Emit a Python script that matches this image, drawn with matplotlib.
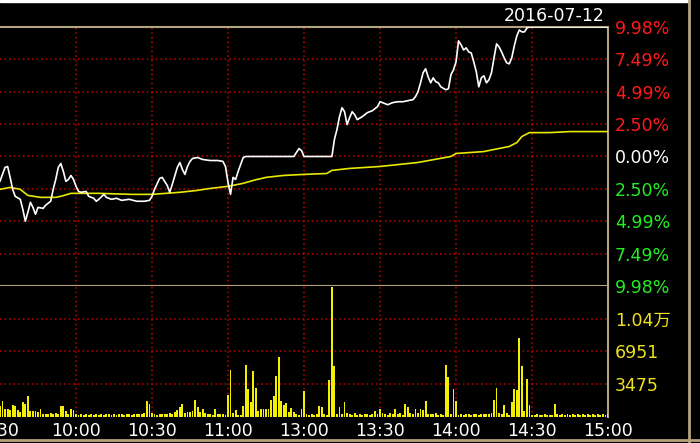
import matplotlib
matplotlib.use("Agg")
import matplotlib.pyplot as plt
from matplotlib.lines import Line2D
from matplotlib.patches import Rectangle

plt.rcParams['font.family'] = ['DejaVu Sans', 'Noto Sans CJK SC']

# trading minutes from 9:30 (0..240, lunch break removed)
price_min = [0, 1, 2, 3, 4, 5, 6, 8, 9, 10, 11, 12, 13, 14, 15, 17, 18, 20, 21, 22,
             23, 24, 25, 26, 27, 28, 29, 30, 31, 32, 34, 35, 37, 38, 39, 41, 42, 44, 46, 48,
             51, 54, 57, 59, 60, 61, 63, 64, 66, 67, 68, 70, 71, 72, 73, 74, 75, 76, 78, 80,
             83, 86, 88, 89, 90, 91, 92, 93, 94, 95, 96, 97, 116, 117, 118, 119, 120, 131, 132, 133,
             134, 135, 136, 137, 138, 139, 140, 141, 143, 144, 145, 147, 149, 150, 151, 153, 155, 157, 159, 161,
             163, 164, 165, 166, 167, 168, 169, 170, 171, 172, 173, 174, 176, 177, 178, 179, 180, 181, 182, 183,
             184, 185, 186, 187, 188, 189, 190, 191, 192, 193, 194, 195, 196, 197, 198, 199, 200, 201, 202, 203,
             204, 205, 206, 207, 208, 209, 240]
price_pct = [-1.90, -1.38, -0.84, -0.77, -1.61, -2.53, -3.07, -3.30, -4.07, -4.99, -4.30, -3.53, -3.92, -4.45, -3.92, -4.00, -3.76, -3.45, -2.53, -1.77,
             -0.84, -0.54, -1.15, -1.92, -1.77, -1.46, -1.77, -2.30, -2.69, -2.76, -2.69, -3.07, -3.22, -3.45, -3.30, -2.92, -3.15, -3.30, -3.22, -3.38,
             -3.30, -3.45, -3.45, -3.38, -3.07, -2.53, -1.69, -1.61, -2.23, -2.76, -2.15, -0.84, -0.46, -1.00, -1.38, -0.77, -0.38, -0.15, -0.08, -0.23,
             -0.31, -0.31, -0.38, -0.77, -2.00, -2.92, -1.61, -1.77, -1.15, -0.61, -0.08, 0.00, 0.00, 0.31, 0.61, 0.46, 0.00, 0.00, 1.31, 2.07,
             3.07, 3.76, 3.45, 2.46, 2.99, 3.45, 3.22, 2.84, 3.07, 3.22, 3.38, 3.53, 3.84, 4.22, 4.15, 3.99, 4.15, 4.22, 4.22, 4.30,
             4.38, 4.61, 4.99, 5.68, 6.45, 6.76, 6.14, 5.68, 6.06, 5.76, 5.68, 5.37, 5.14, 5.22, 6.30, 6.68, 7.29, 8.91, 8.60, 8.21,
             8.37, 8.06, 7.98, 7.29, 6.53, 5.37, 6.06, 6.22, 5.68, 5.91, 6.45, 7.60, 8.68, 8.44, 8.06, 7.60, 7.22, 7.14, 7.60, 8.52,
             9.29, 9.75, 9.60, 9.60, 9.90, 9.98, 9.98]

avg_min = [0, 4, 8, 11, 16, 22, 24, 28, 39, 52, 60, 71, 78, 83, 90, 96, 100, 105, 112, 120,
           129, 131, 138, 150, 165, 178, 180, 191, 195, 201, 204, 206, 209, 217, 225, 240]
avg_pct = [-2.53, -2.38, -2.53, -3.00, -3.15, -3.15, -3.07, -2.84, -2.84, -2.92, -2.92, -2.76, -2.61, -2.46, -2.30, -2.07, -1.84, -1.61, -1.46, -1.38,
           -1.31, -1.07, -0.92, -0.77, -0.46, 0.00, 0.23, 0.38, 0.54, 0.77, 1.07, 1.54, 1.84, 1.84, 1.92, 1.92]

volume = [1100, 1700, 850, 750, 700, 1250, 1150, 650, 500, 1500,
          1350, 2150, 550, 550, 600, 450, 850, 300, 300, 250,
          400, 250, 400, 250, 1150, 1150, 550, 250, 750, 700,
          300, 200, 250, 200, 250, 200, 250, 200, 300, 200,
          250, 200, 250, 250, 200, 300, 200, 250, 300, 200,
          250, 300, 200, 250, 300, 250, 300, 350, 1600, 1300,
          400, 250, 200, 300, 250, 300, 250, 400, 300, 500,
          700, 1050, 1300, 350, 500, 500, 600, 1800, 1000, 500,
          850, 400, 300, 250, 200, 750, 300, 300, 250, 150,
          2300, 5000, 400, 700, 200, 150, 1150, 5450, 2900, 1500,
          4900, 3000, 600, 800, 800, 750, 800, 1800, 2150, 4300,
          6300, 1600, 1200, 1400, 500, 900, 500, 300, 200, 850,
          2700, 250, 200, 300, 200, 250, 1100, 1000, 300, 200,
          3900, 13800, 5350, 300, 1050, 300, 1500, 400, 300, 200,
          350, 200, 300, 200, 250, 300, 200, 250, 600, 300,
          750, 350, 300, 200, 400, 250, 750, 250, 350, 200,
          1300, 1050, 350, 300, 850, 350, 850, 700, 1700, 300,
          300, 250, 350, 200, 300, 200, 5500, 4200, 300, 2900,
          1700, 200, 250, 200, 250, 300, 200, 300, 250, 200,
          300, 250, 300, 250, 400, 1800, 3000, 400, 300, 1200,
          350, 200, 1500, 2900, 2800, 8350, 5350, 600, 4000, 1200,
          200, 200, 250, 150, 200, 250, 200, 150, 200, 1300,
          250, 200, 250, 200, 250, 200, 250, 200, 250, 200,
          250, 200, 250, 200, 250, 200, 250, 200, 250, 200,
          250]

time_ticks = [0, 30, 60, 90, 120, 150, 180, 210, 240]
time_labels = ["9:30", "10:00", "10:30", "11:00", "13:00", "13:30", "14:00", "14:30", "15:00"]
pct_ticks = [9.98, 7.49, 4.99, 2.50, 0.0, -2.50, -4.99, -7.49, -9.98]
pct_colors = ['#ff1a1a'] * 4 + ['#ffffff'] + ['#22ee22'] * 4
vol_ticks = [3475, 6951, 10426]
vol_labels = ["3475", "6951", "1.04万"]
vol_max = 13900

BORDER = '#b4a47e'
GRID = '#c80000'
FS = 12.5

fig = plt.figure(figsize=(7, 4.43), dpi=100, facecolor='black')
ax1 = fig.add_axes([0, 0.3544, 0.8686, 0.5847], facecolor='black')
ax2 = fig.add_axes([0, 0.0598, 0.8686, 0.2946], facecolor='black', sharex=ax1)

# price panel
for lvl in pct_ticks[1:-1]:
    ax1.axhline(lvl, color=GRID, lw=1.1, ls=(0, (1, 2)), zorder=1)
for t in time_ticks[1:-1]:
    ax1.axvline(t, color=GRID, lw=1.1, ls=(0, (1, 2)), zorder=1)
ax1.plot(avg_min, avg_pct, color='#e8e800', lw=1.2, zorder=3)
ax1.plot(price_min, price_pct, color='white', lw=1.2, zorder=4)
ax1.set_xlim(0, 240)
ax1.set_ylim(-9.98, 9.98)
ax1.yaxis.tick_right()
ax1.set_yticks(pct_ticks)
ax1.set_yticklabels(["%.2f%%" % abs(v) for v in pct_ticks])
for lab, c in zip(ax1.get_yticklabels(), pct_colors):
    lab.set_color(c)
ax1.tick_params(axis='y', length=0, pad=5, labelsize=FS)
ax1.tick_params(axis='x', length=0, labelbottom=False)
for side in ['top', 'right', 'bottom']:
    ax1.spines[side].set_color(BORDER)
    ax1.spines[side].set_linewidth(1.5)
ax1.spines['left'].set_visible(False)

# volume panel
for lvl in vol_ticks:
    ax2.axhline(lvl, color=GRID, lw=1.1, ls=(0, (1, 2)), zorder=1)
for t in time_ticks[1:-1]:
    ax2.axvline(t, color=GRID, lw=1.1, ls=(0, (1, 2)), zorder=1)
ax2.bar(range(len(volume)), volume, width=0.75, color='#f2f000', zorder=3)
ax2.set_ylim(0, vol_max)
ax2.yaxis.tick_right()
ax2.set_yticks(vol_ticks)
ax2.set_yticklabels(vol_labels, color='#f0e020')
ax2.tick_params(axis='y', length=0, pad=5, labelsize=FS)
ax2.set_xticks(time_ticks)
ax2.set_xticklabels(time_labels, color='white')
ax2.tick_params(axis='x', length=0, pad=4, labelsize=FS)
ax2.spines['right'].set_color(BORDER)
ax2.spines['right'].set_linewidth(1.5)
for side in ['top', 'left', 'bottom']:
    ax2.spines[side].set_visible(False)

fig.text(605 / 700, 1 - 16 / 443, "2016-07-12", color='white', fontsize=FS,
         ha='right', va='center')

# outer frame bits of the screenshot
fig.add_artist(Line2D([0, 1], [1 - 440 / 443] * 2, color=BORDER, lw=2, transform=fig.transFigure))
fig.add_artist(Line2D([689 / 700] * 2, [0, 1], color=BORDER, lw=2, transform=fig.transFigure))
fig.add_artist(Rectangle((0, 1 - 2 / 443), 689 / 700, 2 / 443, color='white', transform=fig.transFigure))

fig.savefig('out.png', dpi=100, facecolor='black')
